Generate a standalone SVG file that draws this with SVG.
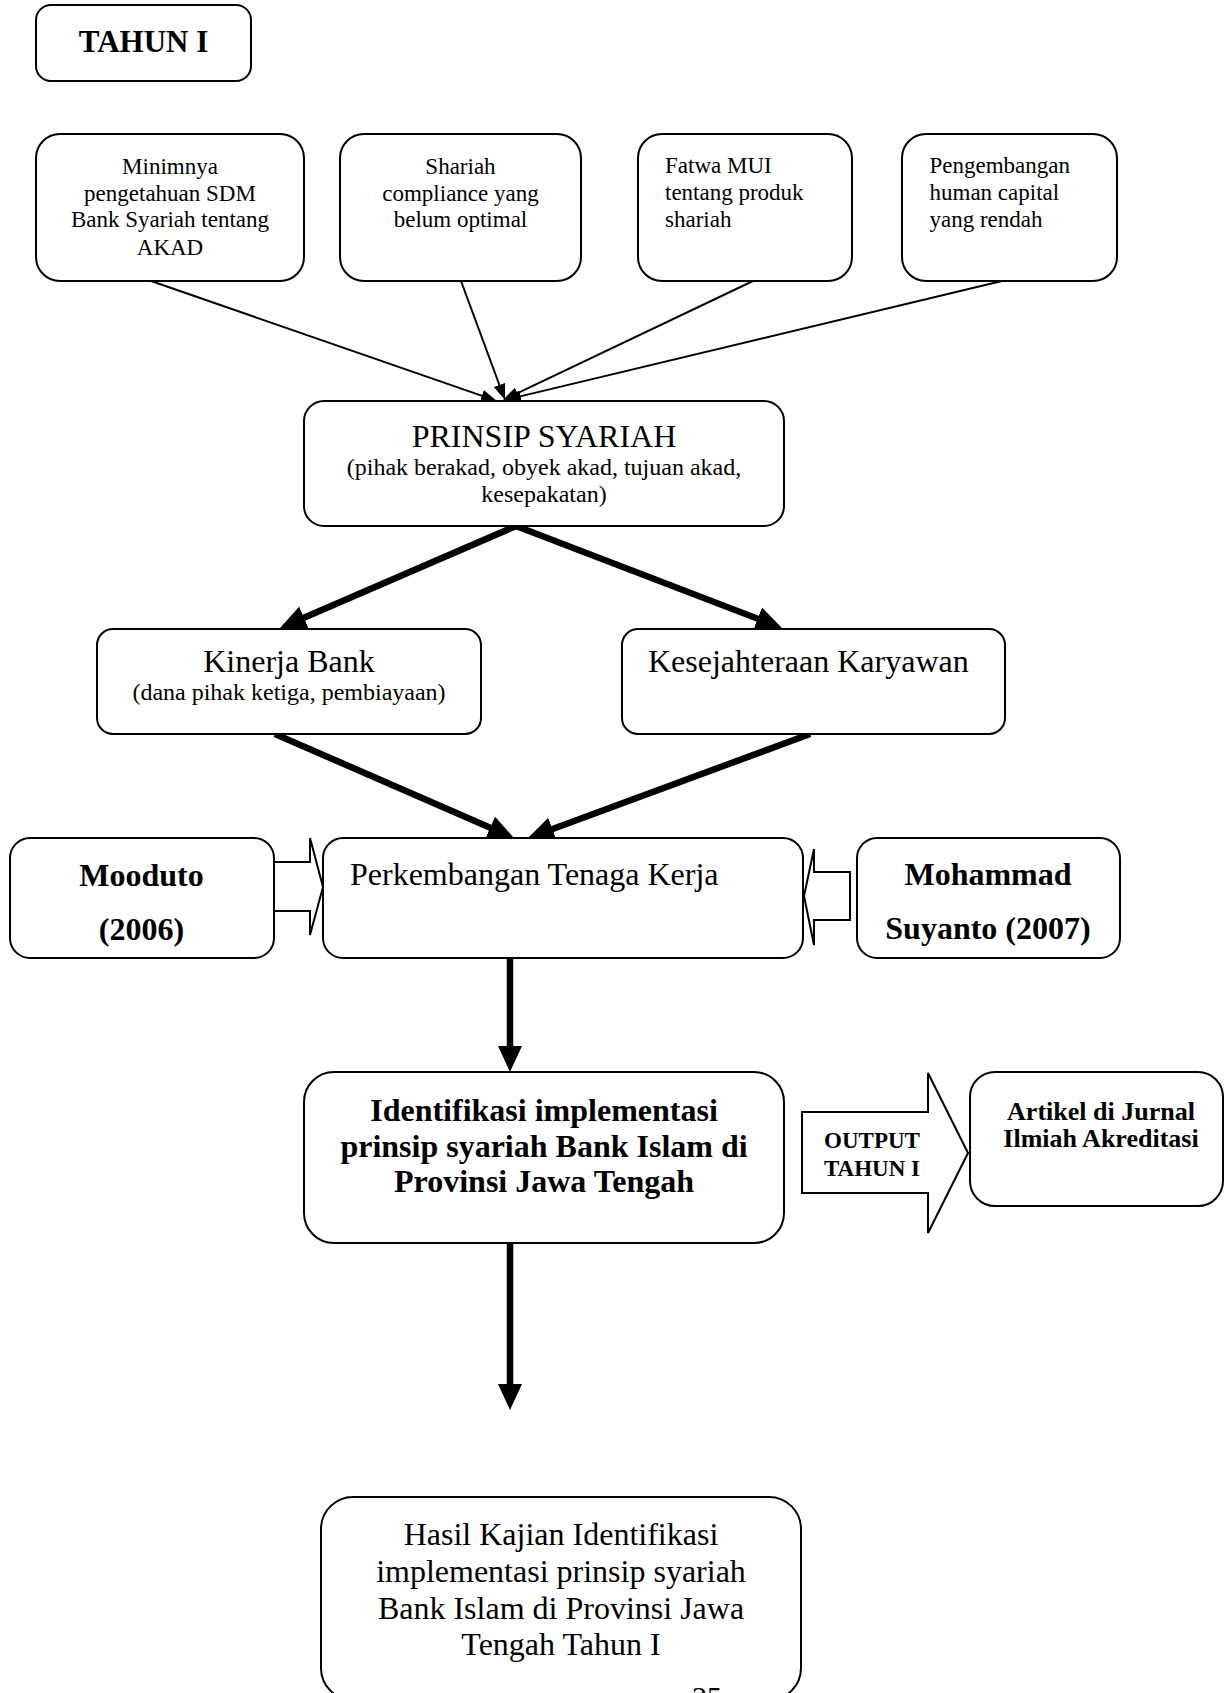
<svg xmlns="http://www.w3.org/2000/svg" width="1225" height="1693" viewBox="0 0 1225 1693">
<style>
.box{fill:#fff;stroke:#000;stroke-width:2}
.t{font-family:"Liberation Serif","Times New Roman",serif;fill:#000}
.b{font-weight:bold}
.c{text-anchor:middle}
.f23{font-size:23px}
.f24{font-size:24px}
.f32{font-size:32px}
.thin{stroke:#000;stroke-width:2;fill:none;marker-end:url(#mThin)}
.thick{stroke:#000;stroke-width:6.5;fill:none;marker-end:url(#mThick)}
.block{fill:#fff;stroke:#000;stroke-width:2;stroke-linejoin:miter}
</style>
<defs>
<marker id="mThin" markerUnits="userSpaceOnUse" markerWidth="16" markerHeight="12" refX="8" refY="6" orient="auto" viewBox="0 0 16 12">
<path d="M0,0 L16,6 L0,12 z" fill="#000"/>
</marker>
<marker id="mThick" markerUnits="userSpaceOnUse" markerWidth="26" markerHeight="24" refX="12" refY="12" orient="auto" viewBox="0 0 26 24">
<path d="M0,0 L26,12 L0,24 z" fill="#000"/>
</marker>
</defs>
<rect width="1225" height="1693" fill="#fff"/>

<g id="connectors">
<line class="thin" x1="151" y1="281" x2="489.4" y2="398.4"/>
<line class="thin" x1="461" y1="281" x2="502.2" y2="392.5"/>
<line class="thin" x1="753" y1="281" x2="510.2" y2="396.6"/>
<line class="thin" x1="1002" y1="281" x2="512.8" y2="398.1"/>
<line class="thick" x1="516" y1="526" x2="292.9" y2="622.4"/>
<line class="thick" x1="516" y1="526" x2="768.9" y2="623"/>
<line class="thick" x1="275" y1="734" x2="501.2" y2="832.4"/>
<line class="thick" x1="810" y1="734" x2="541.1" y2="833.2"/>
<line class="thick" x1="510" y1="958" x2="510" y2="1058"/>
<line class="thick" x1="510" y1="1243" x2="510" y2="1396"/>
<polygon class="block" points="274,862 310,862 310,838 323,887 310,935 310,911 274,911"/>
<polygon class="block" points="850,872 814,872 814,849 804,896 814,945 814,920 850,920"/>
<polygon class="block" points="802,1112 928,1112 928,1073 968,1153 928,1233 928,1193 802,1193"/>
<text class="t b c" font-size="23" x="872" y="1148">OUTPUT</text>
<text class="t b c" font-size="23" x="872" y="1176">TAHUN I</text>
</g>

<g id="tahun">
<rect class="box" x="36" y="5" width="215" height="76" rx="15"/>
<text class="t b c" font-size="31" x="143.5" y="51.7">TAHUN I</text>
</g>

<g id="minimnya">
<rect class="box" x="36" y="134" width="268" height="147" rx="24"/>
<text class="t c f23" x="170" y="174">Minimnya</text>
<text class="t c f23" x="170" y="200.5">pengetahuan SDM</text>
<text class="t c f23" x="170" y="227">Bank Syariah tentang</text>
<text class="t c f23" x="170" y="254.5">AKAD</text>
</g>

<g id="shariah">
<rect class="box" x="340" y="134" width="241" height="147" rx="24"/>
<text class="t c f23" x="460.5" y="174">Shariah</text>
<text class="t c f23" x="460.5" y="200.5">compliance yang</text>
<text class="t c f23" x="460.5" y="227">belum optimal</text>
</g>

<g id="fatwa">
<rect class="box" x="638" y="134" width="214" height="147" rx="24"/>
<text class="t f23" x="665" y="173.3">Fatwa MUI</text>
<text class="t f23" x="665" y="200">tentang produk</text>
<text class="t f23" x="665" y="227">shariah</text>
</g>

<g id="pengembangan">
<rect class="box" x="902" y="134" width="215" height="147" rx="24"/>
<text class="t f23" x="929.5" y="173.3">Pengembangan</text>
<text class="t f23" x="929.5" y="200">human capital</text>
<text class="t f23" x="929.5" y="227">yang rendah</text>
</g>

<g id="prinsip">
<rect class="box" x="304" y="401" width="480" height="125" rx="20"/>
<text class="t c f32" x="544" y="446.7">PRINSIP SYARIAH</text>
<text class="t c f24" x="544" y="475">(pihak berakad, obyek akad, tujuan akad,</text>
<text class="t c f24" x="544" y="501.7">kesepakatan)</text>
</g>

<g id="kinerja">
<rect class="box" x="97" y="629" width="384" height="105" rx="16"/>
<text class="t c f32" x="289" y="671.5">Kinerja Bank</text>
<text class="t c f24" x="289" y="700">(dana pihak ketiga, pembiayaan)</text>
</g>

<g id="kesejahteraan">
<rect class="box" x="622" y="629" width="383" height="105" rx="16"/>
<text class="t f32" x="648" y="671.5">Kesejahteraan Karyawan</text>
</g>

<g id="mooduto">
<rect class="box" x="10" y="838" width="264" height="120" rx="20"/>
<text class="t b c f32" x="141.5" y="886">Mooduto</text>
<text class="t b c f32" x="141.5" y="940">(2006)</text>
</g>

<g id="perkembangan">
<rect class="box" x="323" y="838" width="480" height="120" rx="20"/>
<text class="t f32" x="350" y="885">Perkembangan Tenaga Kerja</text>
</g>

<g id="mohammad">
<rect class="box" x="857" y="838" width="263" height="120" rx="20"/>
<text class="t b c f32" x="988" y="885">Mohammad</text>
<text class="t b c f32" x="988" y="938.5">Suyanto (2007)</text>
</g>

<g id="identifikasi">
<rect class="box" x="304" y="1072" width="480" height="171" rx="30"/>
<text class="t b c f32" x="544" y="1121">Identifikasi implementasi</text>
<text class="t b c f32" x="544" y="1156.5">prinsip syariah Bank Islam di</text>
<text class="t b c f32" x="544" y="1192">Provinsi Jawa Tengah</text>
</g>

<g id="artikel">
<rect class="box" x="970" y="1072" width="253" height="134" rx="25"/>
<text class="t b c" font-size="26" x="1101" y="1120">Artikel di Jurnal</text>
<text class="t b c" font-size="26" x="1101" y="1147">Ilmiah Akreditasi</text>
</g>

<g id="hasil">
<rect class="box" x="321" y="1497" width="480" height="203" rx="32"/>
<text class="t c f32" x="561" y="1545">Hasil Kajian Identifikasi</text>
<text class="t c f32" x="561" y="1582">implementasi prinsip syariah</text>
<text class="t c f32" x="561" y="1618.5">Bank Islam di Provinsi Jawa</text>
<text class="t c f32" x="561" y="1655">Tengah Tahun I</text>
</g>

<g id="page-number">
<text class="t" font-size="30" x="692" y="1707">25</text>
</g>
</svg>
